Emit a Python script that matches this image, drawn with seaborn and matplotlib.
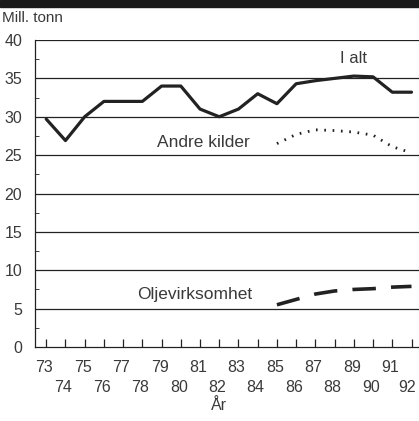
import numpy as np
import pandas as pd
import matplotlib
matplotlib.use('Agg')
import matplotlib.pyplot as plt
import matplotlib.transforms as mtrans
import seaborn as sns

years = list(range(73, 93))
i_alt = [29.7, 26.9, 30.0, 32.0, 32.0, 32.0, 34.0, 34.0, 31.0, 30.0,
         31.0, 33.0, 31.7, 34.3, 34.7, 35.0, 35.3, 35.2, 33.2, 33.2]
andre_years = [85, 86, 87, 88, 89, 90, 91, 92]
andre_kilder = [26.5, 27.7, 28.3, 28.2, 28.0, 27.6, 26.1, 25.3]
olje_years = [85, 86, 87, 88, 89, 90, 91, 92]
oljevirksomhet = [5.5, 6.2, 6.9, 7.3, 7.5, 7.6, 7.8, 7.9]

sns.set_style('white')
plt.rcParams['font.family'] = ['Liberation Sans', 'DejaVu Sans']
ink = '#222222'
txt = '#3a3a3a'

fig = plt.figure(figsize=(4.19, 4.21), dpi=100)
ax = fig.add_axes([34.5/419, 74/421, 1 - 34.5/419, 307/421])

df_tot = pd.DataFrame({'år': years, 'verdi': i_alt})
df_andre = pd.DataFrame({'år': andre_years, 'verdi': andre_kilder})
df_olje = pd.DataFrame({'år': olje_years, 'verdi': oljevirksomhet})

# horisontale linjer
for v in range(5, 41, 5):
    ax.axhline(v, color=ink, lw=0.9, zorder=1)

sns.lineplot(data=df_tot, x='år', y='verdi', ax=ax, color=ink, lw=2.3, zorder=3)
sns.lineplot(data=df_andre, x='år', y='verdi', ax=ax, color=ink, lw=2.0,
             linestyle=(0, (0.6, 2.4)), zorder=3)
sns.lineplot(data=df_olje, x='år', y='verdi', ax=ax, color=ink, lw=2.6,
             linestyle=(0, (6.5, 4.2)), zorder=3)

ax.set_xlim(72.39, 92.39)
ax.set_ylim(0, 40)

for s in ['top', 'right']:
    ax.spines[s].set_visible(False)
for s in ['left', 'bottom']:
    ax.spines[s].set_color(ink)
    ax.spines[s].set_linewidth(0.9)

ax.set_yticks(range(0, 41, 5))
ax.set_yticks(np.arange(2.5, 40, 5), minor=True)
ax.tick_params(axis='y', which='major', length=0, pad=9, labelsize=11.5, labelcolor=txt)
ax.tick_params(axis='y', which='minor', direction='in', length=3, color=ink, left=True)

# x-aksen: merker innover, tall i to rader
ax.set_xticks(years)
ax.set_xticklabels([])
ax.tick_params(axis='x', which='major', direction='in', length=6, width=0.9, color=ink, bottom=True)
trans = mtrans.blended_transform_factory(ax.transData, ax.transAxes)
for y in years:
    dy = -20 if y % 2 == 1 else -40
    dx = -2 if y != 92 else -4
    ax.annotate(str(y), xy=(y, 0), xycoords=trans, xytext=(dx * 0.72, dy * 0.72),
                textcoords='offset points', ha='center', va='center',
                fontsize=11.5, color=txt, annotation_clip=False)
ax.annotate('År', xy=(82, 0), xycoords=trans, xytext=(0, -59 * 0.72),
            textcoords='offset points', ha='center', va='center', fontsize=11.5,
            color=txt, annotation_clip=False)
ax.set_xlabel('')
ax.set_ylabel('')

ax.text(89, 37.6, 'I alt', ha='center', va='center', fontsize=12, color=txt)
ax.text(81.2, 26.6, 'Andre kilder', ha='center', va='center', fontsize=12.5, color=txt)
ax.text(80.7, 6.8, 'Oljevirksomhet', ha='center', va='center', fontsize=12.5, color=txt)

fig.text(2/419, 1 - 18/421, 'Mill. tonn', ha='left', va='center', fontsize=11, color=txt)

# mørk stripe langs toppen
fig.patches.append(plt.Rectangle((0, 1 - 7/421), 1, 7/421, transform=fig.transFigure,
                                 color='#1a1a1a', zorder=0))

fig.savefig('out.png', dpi=100)
